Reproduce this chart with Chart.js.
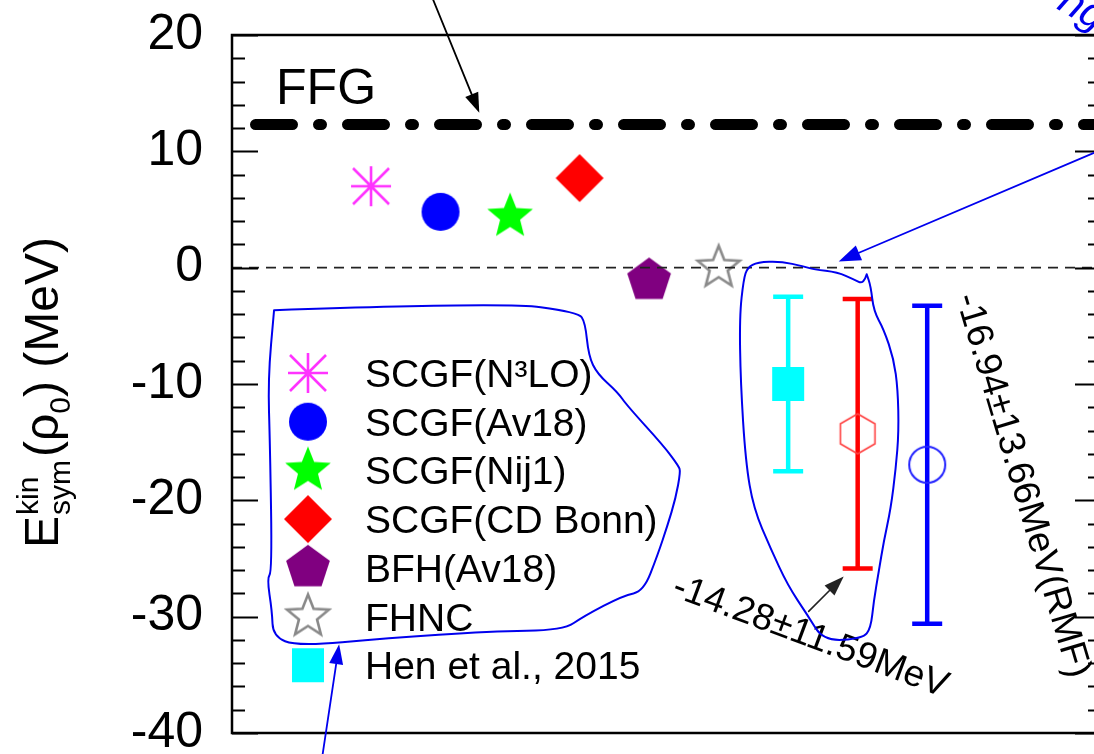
<!DOCTYPE html>
<html>
<head>
<meta charset="utf-8">
<script src="https://cdn.jsdelivr.net/npm/chart.js@4/dist/chart.umd.min.js"></script>
<style>
  html, body { margin: 0; padding: 0; background: #fff; overflow: hidden; }
  #wrap { position: relative; width: 1122px; height: 754px; }
</style>
</head>
<body>
<div id="wrap"><canvas id="c" width="1122" height="754"></canvas></div>
<script>
// ---- data -------------------------------------------------------------
// microscopic calculations of the kinetic symmetry energy at rho0 (MeV)
const theoryLabels = ['SCGF(N³LO)', 'SCGF(Av18)', 'SCGF(Nij1)', 'SCGF(CD Bonn)', 'BFH(Av18)', 'FHNC'];
const theoryPos    = [1, 2, 3, 4, 5, 6];
const theoryEkin   = [7.0, 4.8, 4.4, 7.7, -1.1, 0.0];

// constraints with uncertainties
const constraintLabels = ['Hen et al., 2015', 'SRC-modified', 'RMF'];
const constraintPos    = [7, 8, 9];
const constraintEkin   = [-10.0, -14.28, -16.94];
const constraintErr    = [7.5, 11.59, 13.66];

// free Fermi gas value
const ffgEkin = 12.3;

// y axis
const yMin = -40, yMax = 20, yMajorStep = 10, yMinorStep = 2;
const xMin = -1, xMax = 11.5;

// ---- hand-drawn annotation geometry (axis units) -----------------------
const legendLoop = [[-0.395,-3.66],[2.90,-2.97],[3.98,-3.83],[4.08,-4.69],[4.13,-7.60],[4.256,-9.14],[4.544,-10.69],[4.688,-11.89],[5.207,-15.31],[5.423,-17.03],[5.452,-17.54],[5.380,-19.86],[5.264,-22.17],[5.120,-24.74],[4.919,-27.83],[4.631,-28.17],[4.055,-29.97],[3.767,-31.17],[2.715,-31.26],[1.232,-31.86],[-0.064,-32.54],[-0.410,-31.69],[-0.424,-29.54],[-0.496,-26.71],[-0.424,-26.11],[-0.453,-15.31],[-0.482,-9.57],[-0.395,-3.66]];
const barLoop = [[8.13,-0.57],[8.087,-1.43],[7.943,-1.0],[7.713,-0.40],[7.367,-0.14],[7.223,0.11],[6.892,0.54],[6.560,0.46],[6.416,0.03],[6.359,-1.0],[6.301,-4.17],[6.316,-9.83],[6.388,-16.68],[6.503,-20.71],[6.748,-24.14],[6.993,-27.31],[7.281,-29.88],[7.511,-32.11],[8.073,-31.86],[8.188,-31.0],[8.231,-28.68],[8.303,-26.11],[8.375,-23.54],[8.476,-20.71],[8.548,-17.28],[8.591,-14.11],[8.577,-10.43],[8.519,-7.86],[8.375,-5.29],[8.231,-3.74],[8.188,-1.6],[8.13,-0.57]];
const arrows = [
  { from: [1.866, 23.43], to: [2.557, 13.31], color: '#000', width: 1.8, head: 20, half: 7 },
  { from: [7.295, -29.54], to: [7.799, -26.54], color: '#222', width: 1.6, head: 20, half: 7 },
  { from: [11.644, 10.49], to: [7.727, 0.54], color: '#0000ee', width: 1.8, head: 22, half: 8 },
  { from: [0.296, -42.14], to: [0.541, -32.37], color: '#0000ee', width: 1.8, head: 20, half: 7 }
];

const FONT = '"Liberation Sans", Arial, Helvetica, sans-serif';

// ---- marker images -----------------------------------------------------
function markerCanvas(half, draw) {
  const c = document.createElement('canvas');
  const s = 2 * Math.ceil(half + 3);
  c.width = s; c.height = s;
  const g = c.getContext('2d');
  g.translate(s / 2, s / 2);
  draw(g);
  return c;
}
function starPath(g, R, r) {
  g.beginPath();
  for (let i = 0; i < 10; i++) {
    const a = -Math.PI / 2 + i * Math.PI / 5;
    const rr = i % 2 === 0 ? R : r;
    g.lineTo(rr * Math.cos(a), rr * Math.sin(a));
  }
  g.closePath();
}
function polyPath(g, R, n, start) {
  g.beginPath();
  for (let i = 0; i < n; i++) {
    const a = start + i * 2 * Math.PI / n;
    g.lineTo(R * Math.cos(a), R * Math.sin(a));
  }
  g.closePath();
}
const mAsterisk = markerCanvas(21, g => {
  g.strokeStyle = '#ff33ff'; g.lineWidth = 2.6;
  g.beginPath();
  g.moveTo(0, -20); g.lineTo(0, 20);
  g.moveTo(-20, 0); g.lineTo(20, 0);
  g.moveTo(-18, -18); g.lineTo(18, 18);
  g.moveTo(18, -18); g.lineTo(-18, 18);
  g.stroke();
});
const mCircle = markerCanvas(19, g => {
  g.fillStyle = '#0000ff'; g.beginPath(); g.arc(0, 0, 19, 0, 2 * Math.PI); g.fill();
});
const mStar = markerCanvas(24, g => {
  g.fillStyle = '#00ff00'; starPath(g, 24, 10.5); g.fill();
});
const mDiamond = markerCanvas(24, g => {
  g.fillStyle = '#ff0000';
  g.beginPath(); g.moveTo(0, -24); g.lineTo(24, 0); g.lineTo(0, 24); g.lineTo(-24, 0); g.closePath(); g.fill();
});
const mPentagon = markerCanvas(23, g => {
  g.fillStyle = '#800080'; polyPath(g, 23, 5, -Math.PI / 2); g.fill();
});
const mOpenStar = markerCanvas(23, g => {
  g.strokeStyle = '#8a8a8a'; g.lineWidth = 2.6; g.lineJoin = 'miter';
  starPath(g, 22, 9.5); g.stroke();
});
const mSquare = markerCanvas(17, g => {
  g.fillStyle = '#00ffff'; g.fillRect(-16, -17, 32, 34);
});
const mHexagon = markerCanvas(21, g => {
  g.strokeStyle = '#ff4040'; g.lineWidth = 1.6; polyPath(g, 20, 6, -Math.PI / 2); g.stroke();
});
const mOpenCircle = markerCanvas(20, g => {
  g.strokeStyle = '#2020ff'; g.lineWidth = 2; g.beginPath(); g.arc(0, 0, 18, 0, 2 * Math.PI); g.stroke();
});
const theoryMarkers = [mAsterisk, mCircle, mStar, mDiamond, mPentagon, mOpenStar];
const constraintMarkers = [mSquare, mHexagon, mOpenCircle];
const constraintBarColors = ['#00ffff', '#ff0000', '#0000ff'];
const constraintInLegend = [true, false, false];

// ---- datasets ----------------------------------------------------------
const datasets = [];
datasets.push({
  type: 'line', label: 'zero', data: [{ x: xMin, y: 0 }, { x: xMax, y: 0 }],
  borderColor: '#222', borderWidth: 1.8, borderDash: [10, 7], pointRadius: 0, inLegend: false
});
theoryLabels.forEach((lab, i) => datasets.push({
  type: 'scatter', label: lab, data: [{ x: theoryPos[i], y: theoryEkin[i] }],
  pointStyle: theoryMarkers[i], pointRadius: 20, inLegend: true, legendMarker: theoryMarkers[i]
}));
constraintLabels.forEach((lab, i) => datasets.push({
  type: 'scatter', label: lab, data: [{ x: constraintPos[i], y: constraintEkin[i] }],
  pointStyle: constraintMarkers[i], pointRadius: 20,
  errorBars: [constraintErr[i]], errorColor: constraintBarColors[i],
  inLegend: constraintInLegend[i], legendMarker: constraintMarkers[i]
}));
datasets.push({
  type: 'line', label: 'FFG', data: [{ x: xMin, y: ffgEkin }, { x: xMax, y: ffgEkin }],
  borderColor: '#000', borderWidth: 11, borderDash: [37, 26, 3, 26], borderDashOffset: -23.5,
  borderCapStyle: 'round', pointRadius: 0, inLegend: false
});

// ---- plugins -------------------------------------------------------------
const errorBarPlugin = {
  id: 'errorBars',
  beforeDatasetsDraw(chart) {
    const { ctx, scales: { x, y } } = chart;
    ctx.save();
    chart.data.datasets.forEach(ds => {
      if (!ds.errorBars) return;
      ds.data.forEach((p, k) => {
        const e = ds.errorBars[k];
        const px = x.getPixelForValue(p.x);
        const top = y.getPixelForValue(p.y + e);
        const bot = y.getPixelForValue(p.y - e);
        ctx.strokeStyle = ds.errorColor; ctx.lineWidth = 4.5; ctx.lineCap = 'butt';
        ctx.beginPath();
        ctx.moveTo(px, top); ctx.lineTo(px, bot);
        ctx.moveTo(px - 15, top); ctx.lineTo(px + 15, top);
        ctx.moveTo(px - 15, bot); ctx.lineTo(px + 15, bot);
        ctx.stroke();
      });
    });
    ctx.restore();
  }
};

const framePlugin = {
  id: 'frame',
  afterDatasetsDraw(chart) {
    const { ctx, chartArea: a, scales: { y } } = chart;
    ctx.save();
    ctx.strokeStyle = '#000'; ctx.lineWidth = 2.5;
    ctx.strokeRect(a.left, a.top, a.right - a.left, a.bottom - a.top);
    ctx.lineWidth = 2.2;
    ctx.beginPath();
    for (let v = yMin; v <= yMax + 1e-9; v += yMinorStep) {
      const py = Math.round(y.getPixelForValue(v)) + 0.5;
      const len = (Math.abs(v % yMajorStep) < 1e-9) ? 26 : 13;
      ctx.moveTo(a.left, py); ctx.lineTo(a.left + len, py);
      ctx.moveTo(a.right, py); ctx.lineTo(a.right - len, py);
    }
    ctx.stroke();
    ctx.restore();
  }
};

const legendPlugin = {
  id: 'insideLegend',
  afterDraw(chart) {
    const { ctx, chartArea: a } = chart;
    const items = chart.data.datasets.filter(d => d.inLegend);
    const mx = a.left + 76, tx = a.left + 133, y0 = a.top + 338, step = 48.7;
    ctx.save();
    ctx.font = '39px ' + FONT; ctx.fillStyle = '#000';
    ctx.textAlign = 'left'; ctx.textBaseline = 'alphabetic';
    items.forEach((d, i) => {
      const cy = y0 + i * step;
      const m = d.legendMarker;
      ctx.drawImage(m, mx - m.width / 2, cy - m.height / 2);
      ctx.fillText(d.label, tx, cy + 14);
    });
    ctx.restore();
  }
};

const titlePlugin = {
  id: 'ekinTitle',
  afterDraw(chart) {
    const ctx = chart.ctx;
    const F = 48, S = 30;
    const font = s => s + 'px ' + FONT;
    ctx.save();
    ctx.translate(58, 548);
    ctx.rotate(-Math.PI / 2);
    ctx.fillStyle = '#000';
    ctx.textAlign = 'left'; ctx.textBaseline = 'alphabetic';
    let x = 0;
    ctx.font = font(F); ctx.fillText('E', x, 0); x += ctx.measureText('E').width + 1;
    ctx.font = font(S);
    ctx.fillText('kin', x, -F * 0.42);
    ctx.fillText('sym', x, F * 0.26);
    x += Math.max(ctx.measureText('kin').width, ctx.measureText('sym').width) + 3;
    ctx.font = font(F); ctx.fillText('(ρ', x, 0); x += ctx.measureText('(ρ').width;
    ctx.font = font(S); ctx.fillText('0', x, F * 0.26); x += ctx.measureText('0').width;
    ctx.font = font(F); ctx.fillText(') (MeV)', x, 0);
    ctx.restore();
  }
};

function smoothPath(ctx, pts) {
  ctx.beginPath();
  ctx.moveTo(pts[0][0], pts[0][1]);
  for (let i = 1; i < pts.length - 1; i++) {
    const mx = (pts[i][0] + pts[i + 1][0]) / 2, my = (pts[i][1] + pts[i + 1][1]) / 2;
    ctx.quadraticCurveTo(pts[i][0], pts[i][1], mx, my);
  }
  const l = pts[pts.length - 1];
  ctx.lineTo(l[0], l[1]);
}
function drawArrow(ctx, x0, y0, x1, y1, color, w, head, half) {
  const ang = Math.atan2(y1 - y0, x1 - x0);
  const bx = x1 - head * Math.cos(ang), by = y1 - head * Math.sin(ang);
  ctx.strokeStyle = color; ctx.fillStyle = color; ctx.lineWidth = w;
  ctx.beginPath(); ctx.moveTo(x0, y0); ctx.lineTo(bx, by); ctx.stroke();
  ctx.beginPath();
  ctx.moveTo(x1, y1);
  ctx.lineTo(bx + half * Math.sin(ang), by - half * Math.cos(ang));
  ctx.lineTo(bx - half * Math.sin(ang), by + half * Math.cos(ang));
  ctx.closePath(); ctx.fill();
}

const notesPlugin = {
  id: 'notes',
  afterDraw(chart) {
    const { ctx, scales: { x, y } } = chart;
    const P = p => [x.getPixelForValue(p[0]), y.getPixelForValue(p[1])];
    ctx.save();
    // FFG label
    ctx.fillStyle = '#000'; ctx.font = '50px ' + FONT; ctx.textAlign = 'left'; ctx.textBaseline = 'alphabetic';
    let q = P([-0.366, 14.09]);
    ctx.fillText('FFG', q[0], q[1]);
    // value labels of the two broad constraints
    const lab1 = constraintEkin[1].toFixed(2) + '±' + constraintErr[1].toFixed(2) + 'MeV';
    q = P([5.308, -28.17]);
    ctx.save(); ctx.translate(q[0], q[1]); ctx.rotate(20.5 * Math.PI / 180);
    ctx.font = '37px ' + FONT; ctx.fillText(lab1, 0, 0); ctx.restore();
    const lab2 = constraintEkin[2].toFixed(2) + '±' + constraintErr[2].toFixed(2) + 'MeV(' + constraintLabels[2] + ')';
    q = P([9.412, -2.54]);
    ctx.save(); ctx.translate(q[0], q[1]); ctx.rotate(73.5 * Math.PI / 180);
    ctx.font = '37px ' + FONT; ctx.fillText(lab2, 0, 0); ctx.restore();
    // handwritten marks
    ctx.strokeStyle = '#0000ee'; ctx.lineWidth = 2; ctx.lineJoin = 'round'; ctx.lineCap = 'round';
    smoothPath(ctx, legendLoop.map(P)); ctx.stroke();
    smoothPath(ctx, barLoop.map(P)); ctx.stroke();
    arrows.forEach(ar => {
      const a0 = P(ar.from), a1 = P(ar.to);
      drawArrow(ctx, a0[0], a0[1], a1[0], a1[1], ar.color, ar.width, ar.head, ar.half);
    });
    q = P([11.43, 20.3]);
    ctx.save(); ctx.translate(q[0], q[1]); ctx.rotate(30 * Math.PI / 180);
    ctx.fillStyle = '#0000ee'; ctx.font = 'italic 42px ' + FONT; ctx.textAlign = 'right';
    ctx.fillText('ng', 0, 0); ctx.restore();
    ctx.restore();
  }
};

// ---- chart ---------------------------------------------------------------
new Chart(document.getElementById('c'), {
  data: { datasets },
  options: {
    responsive: false,
    animation: false,
    devicePixelRatio: 1,
    events: [],
    layout: { padding: { left: 0, top: 35, right: 10, bottom: 19 } },
    plugins: { legend: { display: false }, tooltip: { enabled: false } },
    scales: {
      x: { type: 'linear', min: xMin, max: xMax, display: false },
      y: {
        type: 'linear', min: yMin, max: yMax,
        grid: { display: false }, border: { display: false },
        ticks: { stepSize: yMajorStep, color: '#000', padding: 21, font: { size: 50, family: FONT } },
        afterFit(scale) { scale.width = 232; scale.paddingTop = 0; scale.paddingBottom = 0; }
      }
    }
  },
  plugins: [errorBarPlugin, framePlugin, legendPlugin, titlePlugin, notesPlugin]
});
</script>
</body>
</html>
